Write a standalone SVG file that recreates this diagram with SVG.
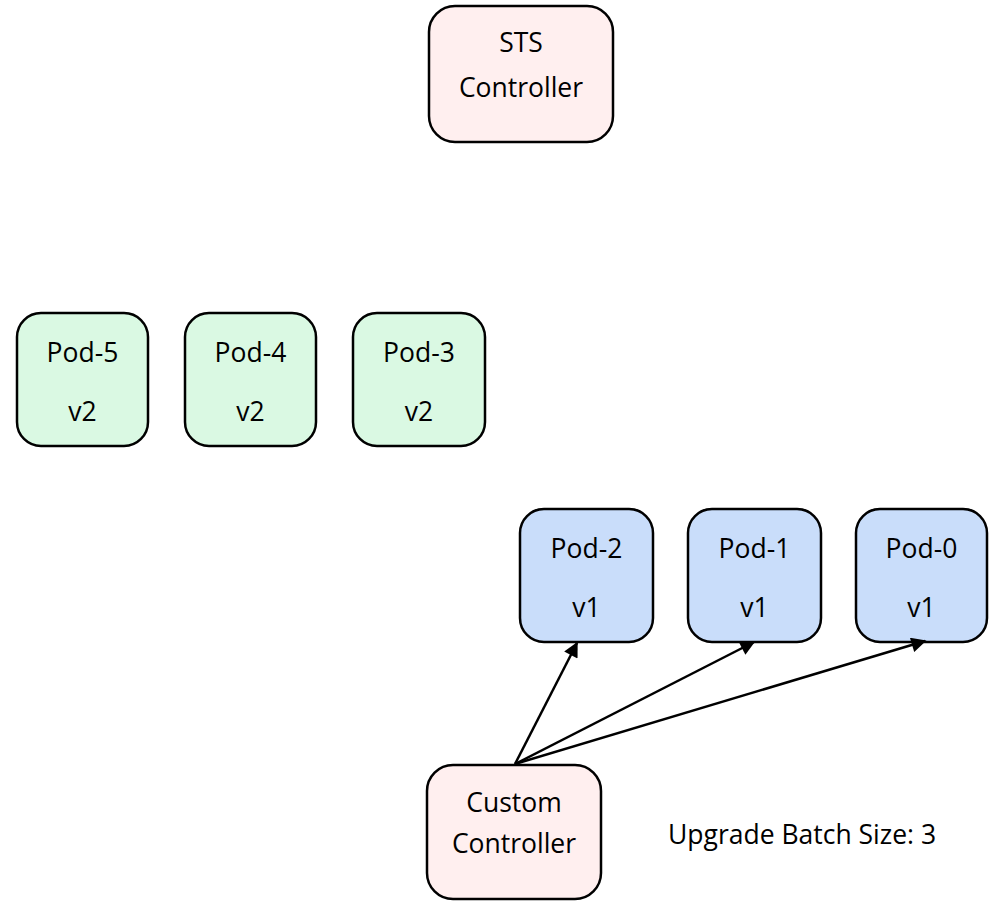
<svg xmlns="http://www.w3.org/2000/svg" width="989" height="901" viewBox="0 0 989 901">
<style>
  .box { stroke: #000; stroke-width: 2.5; }
  .ctrl { fill: #FFEFEF; }
  .v2 { fill: #DAF9E3; }
  .v1 { fill: #C9DDFA; }
  text { font-family: "Open Sans", "Liberation Sans", sans-serif; font-size: 26.5px; fill: #000; }
  .c { text-anchor: middle; }
  .conn { stroke: #000; stroke-width: 2.5; fill: none; marker-end: url(#arr); }
</style>
<defs>
  <marker id="arr" viewBox="0 0 10 10" refX="9" refY="5" markerWidth="6.5" markerHeight="6" markerUnits="strokeWidth" orient="auto">
    <path d="M0,0 L10,5 L0,10 z" fill="#000"/>
  </marker>
</defs>
<rect width="989" height="901" fill="#fff"/>
<g id="sts-controller">
  <rect class="box ctrl" x="429" y="6" width="184" height="136" rx="26"/>
  <text class="c" x="521" y="52">STS</text>
  <text class="c" x="521" y="97">Controller</text>
</g>
<g id="pod-5">
  <rect class="box v2" x="17" y="313" width="131" height="133" rx="24"/>
  <text class="c" x="82.5" y="362">Pod-5</text>
  <text class="c" x="82.5" y="421">v2</text>
</g>
<g id="pod-4">
  <rect class="box v2" x="185" y="313" width="131" height="133" rx="24"/>
  <text class="c" x="250.5" y="362">Pod-4</text>
  <text class="c" x="250.5" y="421">v2</text>
</g>
<g id="pod-3">
  <rect class="box v2" x="353" y="313" width="132" height="133" rx="24"/>
  <text class="c" x="419" y="362">Pod-3</text>
  <text class="c" x="419" y="421">v2</text>
</g>
<g id="pod-2">
  <rect class="box v1" x="520" y="509" width="133" height="133" rx="24"/>
  <text class="c" x="586.5" y="558">Pod-2</text>
  <text class="c" x="586.5" y="617">v1</text>
</g>
<g id="pod-1">
  <rect class="box v1" x="688" y="509" width="133" height="133" rx="24"/>
  <text class="c" x="754.5" y="558">Pod-1</text>
  <text class="c" x="754.5" y="617">v1</text>
</g>
<g id="pod-0">
  <rect class="box v1" x="856" y="509" width="131" height="133" rx="24"/>
  <text class="c" x="921.5" y="558">Pod-0</text>
  <text class="c" x="921.5" y="617">v1</text>
</g>
<g id="custom-controller">
  <rect class="box ctrl" x="427" y="765" width="174" height="134" rx="26"/>
  <text class="c" x="514" y="812">Custom</text>
  <text class="c" x="514" y="853">Controller</text>
</g>
<g id="label">
  <text x="668" y="844">Upgrade Batch Size: 3</text>
</g>
<g id="connectors">
  <line class="conn" x1="515" y1="764" x2="577" y2="643"/>
  <line class="conn" x1="515" y1="764" x2="754" y2="642"/>
  <line class="conn" x1="515" y1="764" x2="925" y2="641"/>
</g>
</svg>
